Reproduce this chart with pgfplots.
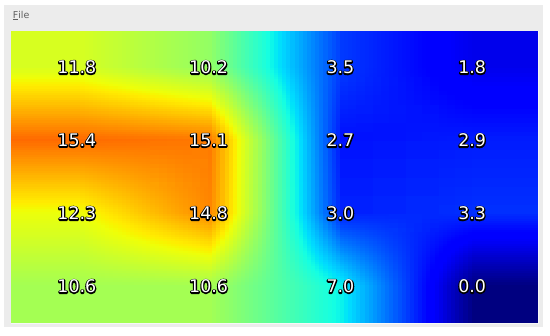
\documentclass[border=0pt]{standalone}
\usepackage{pgfplots}
\pgfplotsset{compat=1.18}
\usepgfplotslibrary{patchplots}
\usepackage{pgfplotstable}
\usepackage{fontspec}
\setmainfont{DejaVu Sans}

\definecolor{winbg}{RGB}{236,236,236}
\definecolor{menutext}{RGB}{95,95,95}

% matplotlib's jet, with all channel breakpoints
\pgfplotsset{colormap={mpljet}{
  rgb(0pt)=(0,0,0.5) rgb(11pt)=(0,0,1) rgb(12.5pt)=(0,0,1)
  rgb(34pt)=(0,0.86,1) rgb(35pt)=(0,0.9,0.968) rgb(37.5pt)=(0.081,1,0.887)
  rgb(64pt)=(0.935,1,0.032) rgb(65pt)=(0.968,0.963,0) rgb(66pt)=(1,0.926,0)
  rgb(89pt)=(1,0.074,0) rgb(91pt)=(0.909,0,0) rgb(100pt)=(0.5,0,0)}}

% white text over a stroked black copy (text render mode 1)
\newcommand\outlined[1]{%
  \makebox[0pt][l]{\special{pdf:literal direct 1 Tr 2.4 w 1 j 0 G}#1\special{pdf:literal direct 0 Tr}}%
  \textcolor{white}{#1}}

% cell values, edge row/column repeated so the image reaches the border
\pgfplotstableread{
x y v
0 0 10.6
0.5 0 10.6
1.5 0 10.6
2.5 0 7.0
3.5 0 0.0
4 0 0.0
0 0.5 10.6
0.5 0.5 10.6
1.5 0.5 10.6
2.5 0.5 7.0
3.5 0.5 0.0
4 0.5 0.0
0 1.5 12.3
0.5 1.5 12.3
1.5 1.5 14.8
2.5 1.5 3.0
3.5 1.5 3.3
4 1.5 3.3
0 2.5 15.4
0.5 2.5 15.4
1.5 2.5 15.1
2.5 2.5 2.7
3.5 2.5 2.9
4 2.5 2.9
0 3.5 11.8
0.5 3.5 11.8
1.5 3.5 10.2
2.5 3.5 3.5
3.5 3.5 1.8
4 3.5 1.8
0 4 11.8
0.5 4 11.8
1.5 4 10.2
2.5 4 3.5
3.5 4 1.8
4 4 1.8
}\gridtable

\pgfplotstableread{
x y v
0.5 3.5 11.8
1.5 3.5 10.2
2.5 3.5 3.5
3.5 3.5 1.8
0.5 2.5 15.4
1.5 2.5 15.1
2.5 2.5 2.7
3.5 2.5 2.9
0.5 1.5 12.3
1.5 1.5 14.8
2.5 1.5 3.0
3.5 1.5 3.3
0.5 0.5 10.6
1.5 0.5 10.6
2.5 0.5 7.0
3.5 0.5 0.0
}\labeltable

\begin{document}
\begin{tikzpicture}
\fill[white] (-11bp,-13bp) rectangle (539bp,323bp);
\fill[winbg] (-7bp,-4bp) rectangle (532bp,318bp);
\node[anchor=base west, inner sep=0pt, text=menutext,
      font=\fontsize{9.5}{11}\selectfont] at (1.7bp,304.7bp) {\underline{F}ile};

\begin{axis}[
    at={(0,0)}, anchor=south west,
    scale only axis, width=527bp, height=292bp,
    hide axis,
    xmin=0, xmax=4, ymin=0, ymax=4,
    colormap name=mpljet,
    point meta min=0, point meta max=19.3,
]
\addplot[surf, shader=interp, patch type=bilinear, mesh/cols=6, point meta=explicit]
    table[x=x, y=y, meta=v]{\gridtable};
\addplot[only marks, mark=none, point meta=explicit,
    nodes near coords={\outlined{\pgfmathprintnumber[fixed,fixed zerofill,precision=1,assume math mode=true]{\pgfplotspointmeta}}},
    nodes near coords align=center,
    every node near coord/.append style={font=\fontsize{17.5}{20}\selectfont, inner sep=0pt}]
    table[x=x, y=y, meta=v]{\labeltable};
\end{axis}
\draw[white!97!black, line width=1.5bp] (527.7bp,292bp) -- (527.7bp,-0.7bp) -- (0,-0.7bp);

\pgfresetboundingbox
\path (-11bp,-13bp) rectangle (539bp,323bp);
\end{tikzpicture}
\end{document}
